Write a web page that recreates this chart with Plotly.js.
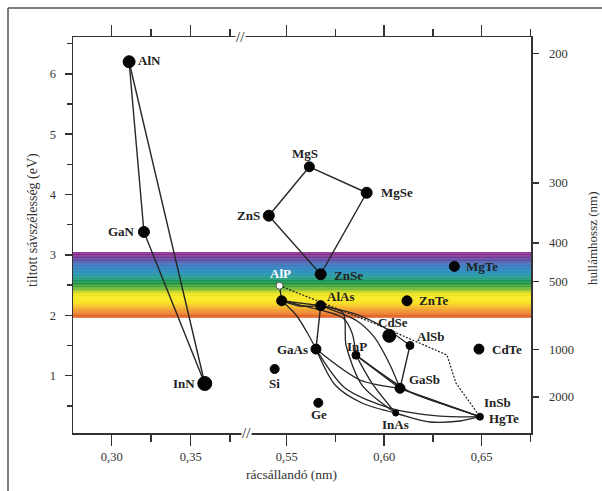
<!DOCTYPE html>
<html><head><meta charset="utf-8">
<script src="https://cdn.plot.ly/plotly-3.0.1.min.js"></script>
<style>html,body{margin:0;padding:0;background:#fff}#chart{width:602px;height:491px}</style>
</head><body><div id="chart"></div>
<script>
// ---- data ----
const compounds = ['AlN','GaN','InN','ZnS','MgS','MgSe','ZnSe','MgTe','ZnTe','AlP','GaP','AlAs','CdSe','AlSb','CdTe','GaAs','InP','GaSb','InAs','InSb','HgTe','Si','Ge'];
const latticeNm = [0.311,0.3204,0.3589,0.5408,0.5616,0.5910,0.5674,0.6360,0.6117,0.5463,0.5474,0.5674,0.6026,0.6132,0.6486,0.5650,0.5855,0.6081,0.6059,0.6491,0.6491,0.5438,0.5662];
const bandGapEv = [6.20,3.38,0.87,3.65,4.46,4.03,2.68,2.81,2.24,2.49,2.24,2.16,1.66,1.50,1.44,1.44,1.34,0.79,0.38,0.32,0.32,1.11,0.55];
const labelledCompounds = ['AlN','GaN','InN','ZnS','MgS','MgSe','ZnSe','MgTe','ZnTe','AlP','AlAs','CdSe','AlSb','CdTe','GaAs','InP','GaSb','InAs','InSb','HgTe','Si','Ge'];
const wavelengthLabels = ['200','300','400','500','1000','2000'];
const wavelengthTickEv = [6.34,4.19,3.20,2.56,1.43,0.65];
const visibleBandEv = [1.96,3.05];
const straightLinks = [['AlN','GaN'],['AlN','InN'],['GaN','InN'],['ZnS','MgS'],['MgS','MgSe'],['MgSe','ZnSe'],['ZnSe','ZnS'],
  ['AlP','GaP'],['GaP','AlAs'],['AlAs','GaAs'],['AlSb','GaSb'],['InP','GaSb'],['GaSb','InSb']];
const alloyCurves = [
  {from:'GaP', to:'AlAs', via:[[0.5568,2.154]]},
  {from:'GaP', to:'GaAs', via:[[0.5548,2.005],[0.5609,1.690]]},
  {from:'GaP', to:'InP',  via:[[0.5671,2.088],[0.5789,1.956],[0.5835,1.707]]},
  {from:'AlAs',to:'InAs', via:[[0.5789,2.038],[0.5804,1.508],[0.5886,0.845]]},
  {from:'AlAs',to:'GaSb', via:[[0.5861,1.906],[0.5948,1.641],[0.6030,1.177]]},
  {from:'AlAs',to:'AlSb', via:[[0.5850,2.022],[0.6004,1.790]]},
  {from:'GaAs',to:'GaSb', via:[[0.5876,0.928]]},
  {from:'GaAs',to:'InAs', via:[[0.5748,0.845],[0.5886,0.547]]},
  {from:'GaAs',to:'InSb', via:[[0.5799,0.795],[0.6030,0.464],[0.6286,0.331]]},
  {from:'InP', to:'InAs', via:[[0.5937,0.878]]},
  {from:'InP', to:'InSb', via:[[0.6132,0.729],[0.6312,0.514]]},
  {from:'GaSb',to:'InSb', via:[[0.6286,0.547]]},
  {from:'InAs',to:'InSb', via:[[0.6235,0.232],[0.6389,0.249]]}
];
const dottedPath = {from:'AlP', to:'InSb', via:[[0.5994,1.806],[0.6132,1.608],[0.6322,1.342],[0.6368,0.878]]};

// ---- styles ----
const markerSizePx = {AlN:12,GaN:11,InN:14,ZnS:11,MgS:10,MgSe:11,ZnSe:11,MgTe:10,ZnTe:10,AlP:7,GaP:10,AlAs:10,CdSe:13,AlSb:8,CdTe:10,GaAs:10,InP:8,GaSb:10,InAs:6,InSb:7,HgTe:7,Si:9,Ge:9};
const labelStyle = {
  AlN:['left',7,1], GaN:['right',-7,0], InN:['right',-8,0], ZnS:['right',-7,0], MgS:['center',-4,13],
  MgSe:['left',12,0], ZnSe:['left',11,-1], MgTe:['left',10,0], ZnTe:['left',10,0], AlP:['center',1,12],
  AlAs:['left',4,9], CdSe:['center',4,13], AlSb:['left',5,9], CdTe:['left',11,0], GaAs:['right',-6,0],
  InP:['center',1,9], GaSb:['left',7,9], InAs:['center',0,-11], InSb:['left',2,14], HgTe:['left',7,-2],
  Si:['center',0,-14], Ge:['center',1,-12]
};
const bandStops = [[3.066,[138,43,138]],[3.0,[135,45,140]],[2.917,[90,74,163]],[2.817,[42,116,190]],[2.718,[29,134,184]],
  [2.635,[23,152,142]],[2.536,[21,145,63]],[2.436,[111,181,46]],[2.37,[230,224,28]],[2.287,[250,234,20]],
  [2.20,[248,220,18]],[2.12,[244,169,31]],[2.04,[236,125,34]],[1.96,[222,83,29]]];

const ink = '#262626';
const serif = "Liberation Serif";
const seg = x => x < 0.45 ? 'x' : 'x2';
const idx = n => compounds.indexOf(n);
const P = n => [latticeNm[idx(n)], bandGapEv[idx(n)]];

const traces = [];
straightLinks.forEach(([a,b]) => {
  const pa = P(a), pb = P(b);
  traces.push({type:'scatter', mode:'lines', x:[pa[0],pb[0]], y:[pa[1],pb[1]], xaxis:seg(pa[0]), yaxis:'y',
    line:{color:ink, width:1.4}, hoverinfo:'skip'});
});
alloyCurves.forEach(c => {
  const pts = [P(c.from), ...c.via, P(c.to)];
  traces.push({type:'scatter', mode:'lines', x:pts.map(p=>p[0]), y:pts.map(p=>p[1]), xaxis:'x2', yaxis:'y',
    line:{color:ink, width:1.3, shape:'spline', smoothing:0.8}, hoverinfo:'skip'});
});
{
  const pts = [P(dottedPath.from), ...dottedPath.via, P(dottedPath.to)];
  traces.push({type:'scatter', mode:'lines', x:pts.map(p=>p[0]), y:pts.map(p=>p[1]), xaxis:'x2', yaxis:'y',
    line:{color:'#222', width:1.2, dash:'2px,1.5px'}, hoverinfo:'skip'});
}
['x','x2'].forEach(ax => {
  const ids = compounds.map((n,i)=>i).filter(i => seg(latticeNm[i]) === ax && compounds[i] !== 'HgTe');
  traces.push({type:'scatter', mode:'markers', x:ids.map(i=>latticeNm[i]), y:ids.map(i=>bandGapEv[i]),
    text:ids.map(i=>compounds[i]), xaxis:ax, yaxis:'y',
    marker:{opacity:1, size:ids.map(i=>markerSizePx[compounds[i]]),
      color:ids.map(i=>compounds[i]==='AlP' ? '#ffffff' : '#050505'),
      line:{color:ids.map(i=>compounds[i]==='AlP' ? '#555' : '#050505'), width:1}}});
});
// right-hand wavelength axis carrier
traces.push({type:'scatter', mode:'none', x:wavelengthTickEv.map(()=>0.6), y:wavelengthTickEv, xaxis:'x2', yaxis:'y2', hoverinfo:'skip'});

// rainbow band shapes
function bandColor(e){
  for (let k=0;k<bandStops.length-1;k++){
    const [e0,c0]=bandStops[k], [e1,c1]=bandStops[k+1];
    if (e<=e0 && e>=e1){ const t=(e0-e)/(e0-e1); return 'rgb('+c0.map((v,j)=>Math.round(v+(c1[j]-v)*t)).join(',')+')'; }
  }
  return e>bandStops[0][0] ? 'rgb('+bandStops[0][1].join(',')+')' : 'rgb('+bandStops[bandStops.length-1][1].join(',')+')';
}
const shapes = [];
const step = 0.01;
for (let e = visibleBandEv[0]; e < visibleBandEv[1]-1e-9; e += step){
  shapes.push({type:'rect', layer:'below', xref:'paper', yref:'y', x0:0, x1:1, y0:e, y1:Math.min(e+step+0.004, visibleBandEv[1]),
    fillcolor:bandColor(e+step/2), line:{width:0}});
}
// outer frame (top & left edges)
shapes.push({type:'line', xref:'paper', yref:'paper', x0:-0.1419, x1:1.16, y0:1.0732, y1:1.0732, line:{color:'#555', width:1.5}});
shapes.push({type:'line', xref:'paper', yref:'paper', x0:-0.1419, x1:-0.1419, y0:1.0732, y1:-0.16, line:{color:'#555', width:1.5}});

const annotations = labelledCompounds.map(n => {
  const [anc, dx, dy] = labelStyle[n];
  const p = P(n);
  return {xref:seg(p[0]), yref:'y', x:p[0], y:p[1], text:'<b>'+n+'</b>', showarrow:false, xanchor:anc, yanchor:'middle',
    xshift:dx, yshift:dy, font:{family:serif, size:13, color: n==='AlP' ? '#ffffff' : '#222'}};
});
const dsplit = (246-73)/458;
annotations.push({xref:'paper', yref:'paper', x:dsplit-0.012, y:1, text:'//', showarrow:false, xanchor:'center', yanchor:'middle', bgcolor:'#ffffff', borderpad:0, font:{family:serif, size:15, color:ink}});
annotations.push({xref:'paper', yref:'paper', x:dsplit, y:0, text:'//', showarrow:false, xanchor:'center', yanchor:'middle', bgcolor:'#ffffff', borderpad:0, font:{family:serif, size:15, color:ink}});
annotations.push({xref:'paper', yref:'paper', x:(291-73)/458, y:-(474-433)/396, text:'rácsállandó (nm)', showarrow:false, xanchor:'center', yanchor:'middle', font:{family:serif, size:13.5, color:'#333'}});
annotations.push({xref:'paper', yref:'paper', x:(33-73)/458, y:(433-220)/396, text:'tiltott sávszélesség (eV)', textangle:-90, showarrow:false, xanchor:'center', yanchor:'middle', font:{family:serif, size:14, color:'#333'}});
annotations.push({xref:'paper', yref:'paper', x:(592-73)/458, y:(433-238)/396, text:'hullámhossz (nm)', textangle:-90, showarrow:false, xanchor:'center', yanchor:'middle', font:{family:serif, size:13, color:'#333'}});

const xCommon = {tickmode:'linear', tick0:0, dtick:0.05, tickformat:'.2f', ticks:'outside', ticklen:11, tickwidth:1.5, tickcolor:'#333',
  showline:true, linecolor:'#333', linewidth:1.5, mirror:'ticks', showgrid:false, zeroline:false,
  tickfont:{family:serif, size:12.5, color:'#333'},
  minor:{tick0:0, dtick:0.025, ticks:'outside', ticklen:7, tickwidth:1.5, tickcolor:'#333', showgrid:false}};

const layout = {
  width:602, height:491, margin:{l:73, r:71, t:37, b:58},
  paper_bgcolor:'#ffffff', plot_bgcolor:'#ffffff', showlegend:false, separators:',.',
  font:{family:serif, size:12, color:'#333'},
  xaxis:Object.assign({}, xCommon, {domain:[0,dsplit], range:[0.2755,0.385], anchor:'y'}),
  xaxis2:Object.assign({}, xCommon, {domain:[dsplit,1], range:[0.5291,0.6753], anchor:'y'}),
  yaxis:{range:[0.05,6.61], tickmode:'linear', tick0:0, dtick:1, ticks:'outside', ticklen:7, tickwidth:1.5, tickcolor:'#333',
    showline:true, linecolor:'#333', linewidth:1.5, showgrid:false, zeroline:false, anchor:'x', ticklabelstandoff:6,
    tickfont:{family:serif, size:12.5, color:'#333'},
    minor:{tick0:0, dtick:0.5, ticks:'outside', ticklen:5, tickwidth:1.5, tickcolor:'#333', showgrid:false}},
  yaxis2:{overlaying:'y', side:'right', anchor:'x2', range:[0.05,6.61], tickmode:'array', tickvals:wavelengthTickEv, ticktext:wavelengthLabels,
    ticks:'outside', ticklen:6, tickwidth:1.5, tickcolor:'#333', showline:true, linecolor:'#333', linewidth:1.5, ticklabelstandoff:8,
    showgrid:false, zeroline:false, tickfont:{family:serif, size:12.5, color:'#333'}},
  shapes:shapes, annotations:annotations
};
Plotly.newPlot('chart', traces, layout, {displayModeBar:false, staticPlot:true});
</script></body></html>
